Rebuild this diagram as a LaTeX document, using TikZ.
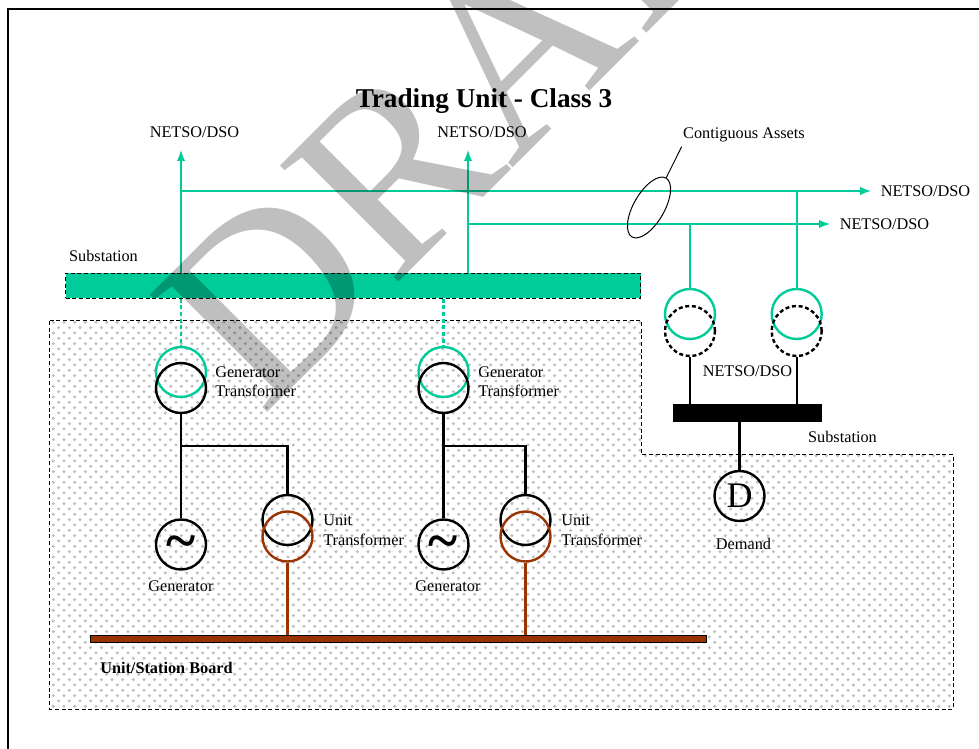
\documentclass[tikz,border=0pt]{standalone}
\usepackage{fontspec}
\setmainfont{Liberation Serif}
\usetikzlibrary{arrows, patterns, shapes.geometric}
\definecolor{gridgreen}{HTML}{00CC99}
\definecolor{boardbrown}{HTML}{993300}
\definecolor{dotgray}{HTML}{BEBEBE}
\pgfdeclarepatternformonly{unitdots}{\pgfqpoint{-1.3pt}{-1.3pt}}{\pgfqpoint{6.7pt}{6.7pt}}{\pgfqpoint{8pt}{8pt}}{
\pgfpathcircle{\pgfqpoint{0pt}{0pt}}{1.25pt}
\pgfpathcircle{\pgfqpoint{4pt}{4pt}}{1.25pt}
\pgfusepath{fill}
}
\tikzset{
x=0.75pt, y=-0.75pt, % one unit is one pixel of the reference
every node/.style={font=\fontsize{12.2}{14.6}\selectfont, inner sep=0pt},
coil/.style={circle, draw, line width=1.8pt, minimum size=37.5pt}, % sets the properties for each winding
coilgreen/.style={coil, draw=gridgreen},
coilbrown/.style={coil, draw=boardbrown},
coilopen/.style={coil, densely dashed},
sine/.style={coil, font=\fontsize{42}{42}\selectfont\bfseries}, % the generator symbol
gridline/.style={draw=gridgreen, line width=1.8pt},
blackline/.style={draw=black, line width=1.8pt},
brownline/.style={draw=boardbrown, line width=1.8pt},
}

\begin{document}
\begin{tikzpicture}
\useasboundingbox (0,0) rectangle (979,749);

\draw[line width=1.8pt] (8,749) -- (8,9) -- (979,9);
\draw[densely dashed, line width=0.75pt, pattern=unitdots, pattern color=dotgray] (49.5,320) -- (641,320) -- (641,454) -- (953,454) -- (953,709) -- (49.5,709) -- cycle;

\node[font=\fontsize{20.4}{24}\selectfont\bfseries] at (484,101) (title) {Trading Unit - Class 3};

\node[rectangle, draw, densely dashed, line width=0.75pt, fill=gridgreen, minimum width=431.6pt, minimum height=18.75pt] at (353.25,285.5) (subgreen) {};
\node[rectangle, fill=black, minimum width=111.75pt, minimum height=13.25pt] at (747.5,413) (subblack) {};
\node[rectangle, draw, line width=0.75pt, fill=boardbrown, minimum width=462.25pt, minimum height=5.8pt] at (398.5,639) (board) {};

\node[coilgreen] at (181,372) (gt1g) {};
\node[coil] at (181,388) (gt1b) {};
\node[coilgreen] at (443.5,372) (gt2g) {};
\node[coil] at (443.5,388) (gt2b) {};
\node[sine] at (181,544.5) (gen1) {\rule{0pt}{0.54em}\textasciitilde};
\node[sine] at (443.5,544.5) (gen2) {\rule{0pt}{0.54em}\textasciitilde};
\node[coil] at (287.5,520) (ut1b) {};
\node[coilbrown] at (287.5,536.5) (ut1r) {};
\node[coil] at (525.5,520) (ut2b) {};
\node[coilbrown] at (525.5,536.5) (ut2r) {};
\node[coilgreen] at (690,314) (st1g) {};
\node[coilopen] at (690,331) (st1b) {};
\node[coilgreen] at (796.7,314) (st2g) {};
\node[coilopen] at (796.7,331) (st2b) {};
\node[coil, font=\fontsize{27}{27}\selectfont] at (739.5,496) (demand) {D};

\node at (194.5,132.5) (net1) {NETSO/DSO};
\node at (482,132.5) (net2) {NETSO/DSO};
\node at (925.5,191) (net3) {NETSO/DSO};
\node at (884.5,224) (net4) {NETSO/DSO};
\node at (747.5,371.5) (net5) {NETSO/DSO};
\node at (103.5,256) (sub1) {Substation};
\node at (842.5,437) (sub2) {Substation};
\node at (744,135) (contig) {Contiguous Assets};
\node[align=left, anchor=west] at (215,381.5) (gtl1) {Generator\\Transformer};
\node[align=left, anchor=west] at (478,381.5) (gtl2) {Generator\\Transformer};
\node[align=left, anchor=west] at (323,530) (utl1) {Unit\\Transformer};
\node[align=left, anchor=west] at (561,530) (utl2) {Unit\\Transformer};
\node at (181,586) (genl1) {Generator};
\node at (448,586) (genl2) {Generator};
\node at (743.5,544) (deml) {Demand};
\node[font=\fontsize{12.2}{14.6}\selectfont\bfseries, anchor=west] at (100,668) (boardl) {Unit/Station Board};

\coordinate (tip1) at (181,150);
\coordinate (tip2) at (468,150);
\coordinate (tip3) at (871,191);
\coordinate (tip4) at (830,224);
\coordinate (join1) at (181,191);
\coordinate (join2) at (468,224);
\coordinate (join3) at (796.7,191);
\coordinate (join4) at (690,224);
\coordinate (knee1) at (181,446);
\coordinate (knee2) at (443.5,446);
\coordinate (lead) at (681.7,146.7);

\draw[gridline, -latex] (subgreen.north -| tip1) -- (tip1);
\draw[gridline, -latex] (subgreen.north -| tip2) -- (tip2);
\draw[gridline, -latex] (join1) -- (tip3);
\draw[gridline, -latex] (join2) -- (tip4);
\draw[gridline] (join3) -- (st2g);
\draw[gridline] (join4) -- (st1g);
\draw[gridline, densely dashed] (gt1g.north |- subgreen.south) -- (gt1g);
\draw[gridline, densely dashed] (gt2g.north |- subgreen.south) -- (gt2g);

\draw[blackline] (gt1b) -- (gen1);
\draw[blackline] (gt2b) -- (gen2);
\draw[blackline] (knee1) -| (ut1b);
\draw[blackline] (knee2) -| (ut2b);
\draw[blackline] (st1b) -- (subblack.north -| st1b);
\draw[blackline] (st2b) -- (subblack.north -| st2b);
\draw[blackline] (subblack.south -| demand) -- (demand);
\draw[brownline] (ut1r) -- (board.north -| ut1r);
\draw[brownline] (ut2r) -- (board.north -| ut2r);

\node[ellipse, draw, line width=0.75pt, rotate=60, minimum width=51pt, minimum height=23pt] at (649,207.5) (assets) {};
\draw[line width=0.75pt] (assets.east) -- (lead);

\node[anchor=base west, rotate=45, font=\fontsize{190}{190}\selectfont, text=black, text opacity=0.25] at (262.5,418) (draftmark) {DRAFT};

\end{tikzpicture}
\end{document}
